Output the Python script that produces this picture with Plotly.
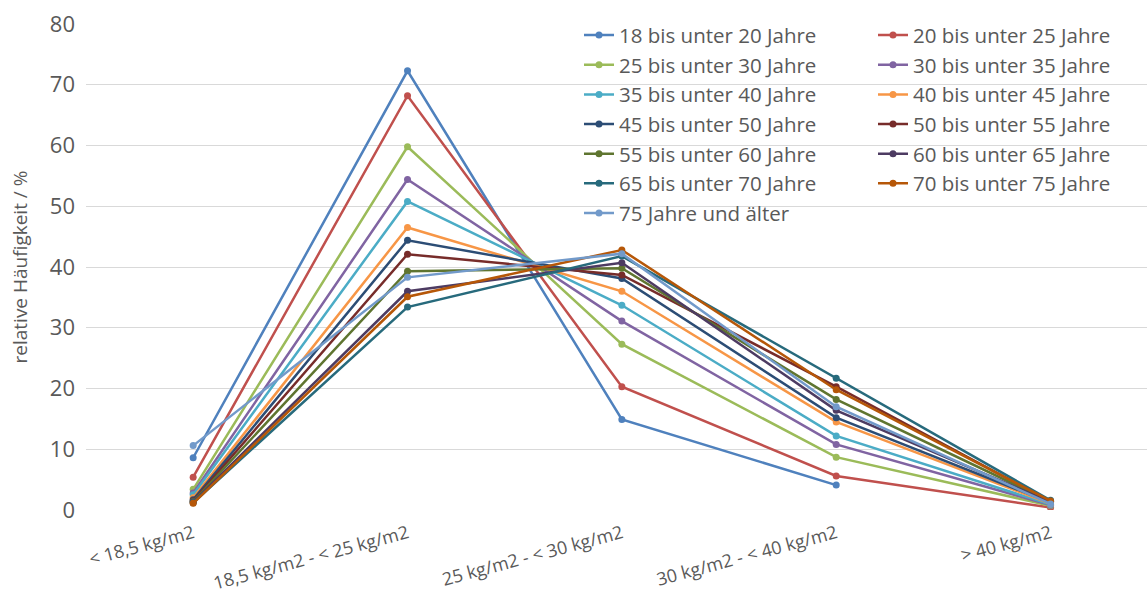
import plotly.graph_objects as go

categories = ["< 18,5 kg/m2", "18,5 kg/m2 - < 25 kg/m2", "25 kg/m2 - < 30 kg/m2",
              "30 kg/m2 - < 40 kg/m2", "> 40 kg/m2"]

age_groups = [
    "18 bis unter 20 Jahre", "20 bis unter 25 Jahre", "25 bis unter 30 Jahre",
    "30 bis unter 35 Jahre", "35 bis unter 40 Jahre", "40 bis unter 45 Jahre",
    "45 bis unter 50 Jahre", "50 bis unter 55 Jahre", "55 bis unter 60 Jahre",
    "60 bis unter 65 Jahre", "65 bis unter 70 Jahre", "70 bis unter 75 Jahre",
    "75 Jahre und älter",
]

# relative frequency (%) per BMI class, one list per age group
v_18_20 = [8.6, 72.3, 14.9, 4.1, None]
v_20_25 = [5.4, 68.2, 20.3, 5.6, 0.4]
v_25_30 = [3.4, 59.8, 27.3, 8.7, 0.7]
v_30_35 = [2.8, 54.4, 31.1, 10.8, 0.8]
v_35_40 = [2.5, 50.8, 33.7, 12.2, 0.9]
v_40_45 = [2.0, 46.5, 36.0, 14.5, 1.0]
v_45_50 = [1.7, 44.4, 38.1, 15.2, 1.2]
v_50_55 = [1.5, 42.1, 38.7, 20.3, 1.4]
v_55_60 = [1.4, 39.3, 39.8, 18.2, 1.4]
v_60_65 = [1.3, 36.0, 40.7, 16.4, 1.3]
v_65_70 = [1.2, 33.4, 41.8, 21.7, 1.6]
v_70_75 = [1.1, 35.1, 42.8, 19.8, 1.5]
v_75_up = [10.6, 38.3, 42.2, 17.0, 1.0]

series_values = [v_18_20, v_20_25, v_25_30, v_30_35, v_35_40, v_40_45, v_45_50,
                 v_50_55, v_55_60, v_60_65, v_65_70, v_70_75, v_75_up]

colors = ["#4F81BD", "#C0504D", "#9BBB59", "#8064A2", "#4BACC6", "#F79646",
          "#2C4D75", "#772C2A", "#5F7530", "#4D3B62", "#276A7C", "#B65708",
          "#729ACA"]

y_ticks = [0, 10, 20, 30, 40, 50, 60, 70, 80]

text_color = "#595959"
font_family = "Open Sans, Noto Sans, sans-serif"

fig = go.Figure()
for i, (name, vals, col) in enumerate(zip(age_groups, series_values, colors)):
    # legend entries fill two columns row by row
    fig.add_trace(go.Scatter(
        x=categories, y=vals, name=name, mode="lines+markers",
        line=dict(color=col, width=2.5),
        marker=dict(color=col, size=7),
        connectgaps=False,
        legend="legend" if i % 2 == 0 else "legend2",
    ))

legend_style = dict(
    orientation="v",
    xanchor="left", yanchor="top",
    font=dict(size=20.5, color=text_color, family=font_family),
    bgcolor="rgba(0,0,0,0)",
    itemwidth=30,
    traceorder="normal",
    tracegroupgap=0,
)

fig.update_layout(
    width=1147, height=591,
    margin=dict(l=86, r=0, t=24, b=81, autoexpand=False),
    paper_bgcolor="white", plot_bgcolor="white",
    font=dict(family=font_family, color=text_color),
    showlegend=True,
    legend=dict(x=(579 - 86) / 1061, y=1.018, **legend_style),
    legend2=dict(x=(873 - 86) / 1061, y=1.018, **legend_style),
    xaxis=dict(
        type="category",
        range=[-0.5, 4.45],
        tickangle=-15,
        tickfont=dict(size=18, color=text_color),
        showgrid=False, showline=False, zeroline=False,
        ticks="", ticklabelstandoff=9,
    ),
    yaxis=dict(
        range=[0, 80],
        tickvals=y_ticks,
        tickfont=dict(size=22, color=text_color),
        showgrid=True, gridcolor="#D9D9D9", gridwidth=1,
        zeroline=False, showline=False,
        ticks="", ticklabelstandoff=10,
        title=dict(text="relative Häufigkeit / %",
                   font=dict(size=19, color=text_color), standoff=17),
    ),
)

fig.write_html("out.html")
